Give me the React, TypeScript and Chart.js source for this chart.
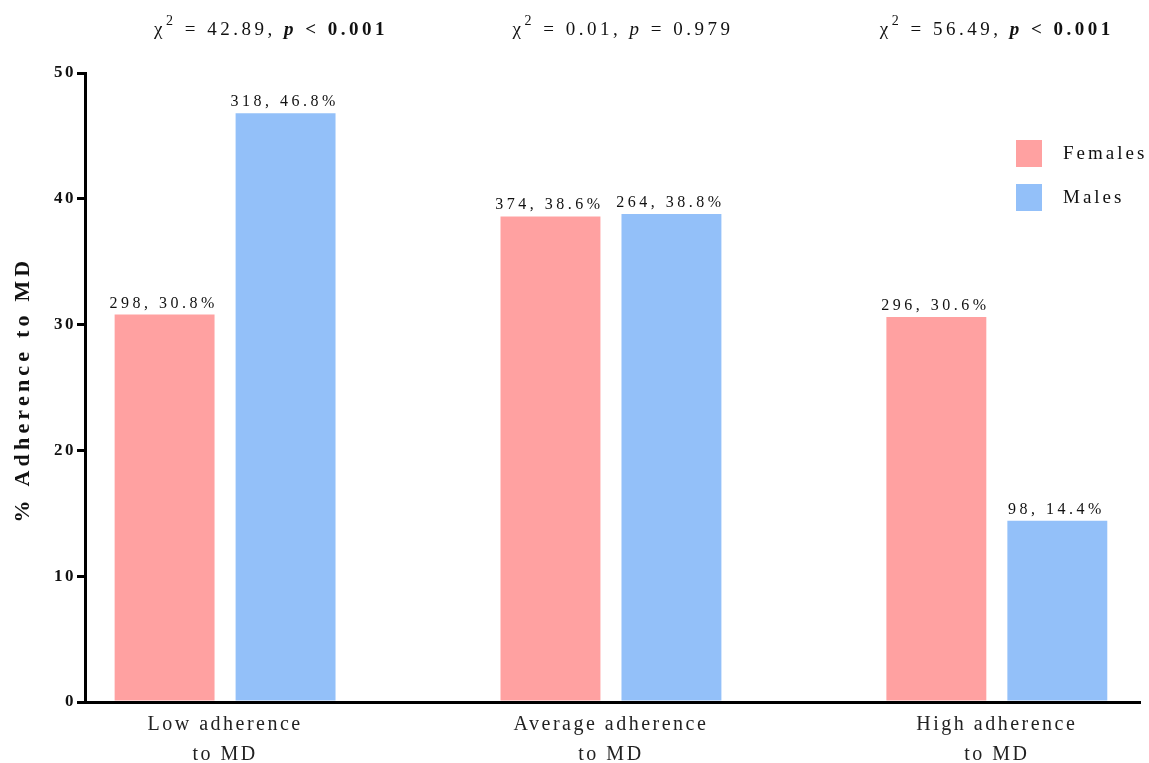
import React, { useEffect, useRef } from "react";
import { Chart, registerables } from "chart.js";

Chart.register(...registerables);

const categories: string[][] = [
  ["Low adherence", "to MD"],
  ["Average adherence", "to MD"],
  ["High adherence", "to MD"],
];
const seriesNames = ["Females", "Males"];
const femalePct = [30.8, 38.6, 30.6];
const malePct = [46.8, 38.8, 14.4];
const femaleCount = [298, 374, 296];
const maleCount = [318, 264, 98];
const chiValues = ["42.89", "0.01", "56.49"];
const pRelations = ["<", "=", "<"];
const pValues = ["0.001", "0.979", "0.001"];
const pSignificant = [true, false, true];
const yTicks = [0, 10, 20, 30, 40, 50];
const yTitle = "% Adherence to MD";

const FEMALE_COLOR = "#FFA1A1";
const MALE_COLOR = "#93C0F9";
const SERIF = '"Liberation Serif", "DejaVu Serif", serif';
const TEXT = "#111111";
// horizontal nudges of the statistic texts relative to their group centre
const STAT_OFFSETS = [46, 12, 0];

type Seg = { text: string; font: string; dy?: number; spacing: number };

function drawSegments(ctx: CanvasRenderingContext2D, segs: Seg[], cx: number, y: number) {
  ctx.save();
  ctx.textBaseline = "alphabetic";
  ctx.textAlign = "left";
  ctx.fillStyle = TEXT;
  const widths = segs.map((s) => {
    ctx.font = s.font;
    (ctx as any).letterSpacing = s.spacing + "px";
    return ctx.measureText(s.text).width;
  });
  const total = widths.reduce((a, b) => a + b, 0);
  let x = cx - total / 2;
  segs.forEach((s, i) => {
    ctx.font = s.font;
    (ctx as any).letterSpacing = s.spacing + "px";
    ctx.fillText(s.text, x, y + (s.dy || 0));
    x += widths[i];
  });
  ctx.restore();
}

const spacingPlugin = {
  id: "spacing",
  beforeUpdate(chart: any) {
    chart.ctx.letterSpacing = "2.5px";
  },
  beforeDraw(chart: any) {
    chart.ctx.letterSpacing = "2.5px";
  },
};

const annotationPlugin = {
  id: "annotations",
  afterDatasetsDraw(chart: any) {
    const ctx: CanvasRenderingContext2D = chart.ctx;
    // value labels above bars
    const counts = [femaleCount, maleCount];
    chart.data.datasets.forEach((ds: any, di: number) => {
      const meta = chart.getDatasetMeta(di);
      meta.data.forEach((bar: any, i: number) => {
        const label = `${counts[di][i]}, ${ds.data[i].y}%`;
        drawSegments(ctx, [{ text: label, font: `16px ${SERIF}`, spacing: 3.5 }], bar.x - 1, bar.y - 7);
      });
    });
    // chi-square statistics above groups
    const xs = chart.scales.x;
    chiValues.forEach((chi, i) => {
      const cx = xs.getPixelForValue(i) + STAT_OFFSETS[i];
      const sig = pSignificant[i];
      const normal = `19px ${SERIF}`;
      const bold = `bold 19px ${SERIF}`;
      const segs: Seg[] = [
        { text: "\u03C7", font: normal, spacing: 3.5 },
        { text: "2", font: `14px ${SERIF}`, dy: -10, spacing: 3.5 },
        { text: ` = ${chi}, `, font: normal, spacing: 3.5 },
        { text: "p", font: sig ? `italic bold 19px ${SERIF}` : `italic 19px ${SERIF}`, spacing: 3.5 },
        { text: ` ${pRelations[i]} `, font: sig ? bold : normal, spacing: 3.5 },
        { text: pValues[i], font: sig ? bold : normal, spacing: 3.5 },
      ];
      drawSegments(ctx, segs, cx, 35);
    });
    // legend
    const area = chart.chartArea;
    const colors = [FEMALE_COLOR, MALE_COLOR];
    seriesNames.forEach((name, i) => {
      const x = area.right - 124;
      const y = area.top + 67 + i * 44;
      ctx.save();
      ctx.fillStyle = colors[i];
      ctx.fillRect(x, y, 26, 27);
      ctx.fillStyle = TEXT;
      ctx.font = `19px ${SERIF}`;
      (ctx as any).letterSpacing = "3px";
      ctx.textAlign = "left";
      ctx.textBaseline = "middle";
      ctx.fillText(name, x + 47, y + 14);
      ctx.restore();
    });
    // y axis title
    ctx.save();
    ctx.translate(21, (area.top + area.bottom) / 2 + 4);
    ctx.rotate(-Math.PI / 2);
    drawSegments(ctx, [{ text: yTitle, font: `bold 22px ${SERIF}`, spacing: 4.2 }], 2, 8);
    ctx.restore();
  },
};

export default function App() {
  const ref = useRef<HTMLCanvasElement>(null);
  useEffect(() => {
    document.body.style.margin = "0";
    const canvas = ref.current!;
    const toPoints = (vals: number[]) => vals.map((v, i) => ({ x: i, y: v }));
    const chart = new Chart(canvas, {
      type: "bar",
      data: {
        datasets: [
          { label: seriesNames[0], data: toPoints(femalePct), backgroundColor: FEMALE_COLOR },
          { label: seriesNames[1], data: toPoints(malePct), backgroundColor: MALE_COLOR },
        ],
      },
      options: {
        animation: false,
        responsive: false,
        devicePixelRatio: 1,
        layout: { padding: { top: 73, right: 9, left: 0, bottom: 0 } },
        datasets: { bar: { barPercentage: 0.826, categoryPercentage: 0.627 } },
        plugins: { legend: { display: false }, tooltip: { enabled: false } },
        scales: {
          x: {
            type: "linear",
            offset: false,
            min: -0.363,
            max: 2.371,
            afterBuildTicks: (scale: any) => {
              scale.ticks = categories.map((_, i) => ({ value: i }));
            },
            afterFit: (scale: any) => {
              scale.height = 61;
            },
            grid: { display: false, drawTicks: false, tickLength: 0 },
            border: { display: true, color: "#000", width: 3 },
            ticks: {
              autoSkip: false,
              maxRotation: 0,
              padding: 8,
              color: "#222",
              font: { family: SERIF, size: 20, lineHeight: 1.5 },
              callback: (v: any) => categories[Math.round(Number(v))] ?? "",
            },
          },
          y: {
            min: 0,
            max: 50,
            afterBuildTicks: (scale: any) => {
              scale.ticks = yTicks.map((v) => ({ value: v }));
            },
            afterFit: (scale: any) => {
              scale.width = 85;
            },
            grid: { drawOnChartArea: false, tickLength: 8, tickColor: "#000", lineWidth: 3 },
            border: { display: true, color: "#000", width: 3 },
            ticks: {
              padding: 1,
              color: TEXT,
              font: { family: SERIF, size: 17, weight: "bold" },
            },
            title: { display: false },
          },
        },
      } as any,
      plugins: [spacingPlugin, annotationPlugin],
    });
    return () => chart.destroy();
  }, []);
  return <canvas ref={ref} width={1149} height={763} style={{ display: "block" }} />;
}
